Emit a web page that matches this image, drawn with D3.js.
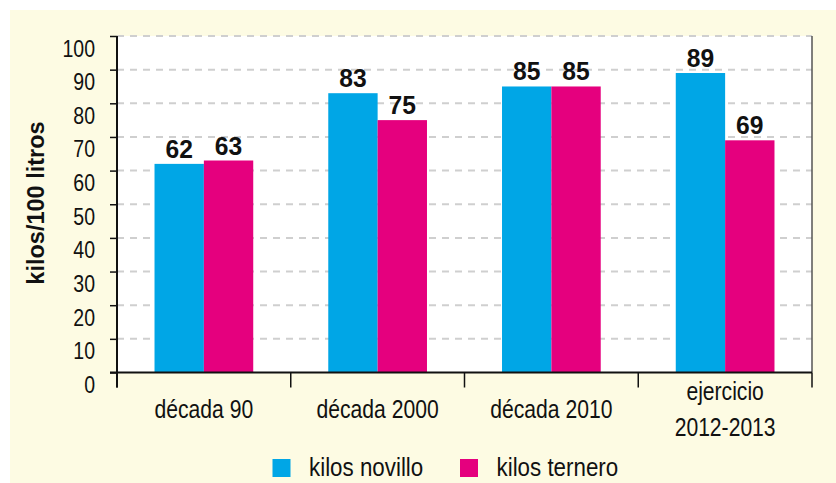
<!DOCTYPE html>
<html><head><meta charset="utf-8">
<script src="https://cdn.jsdelivr.net/npm/d3@7"></script>
<style>
html,body{margin:0;padding:0;background:#fff;}
svg{display:block;}
text{font-family:"Liberation Sans",Arial,Helvetica,sans-serif;}
</style></head>
<body>
<svg id="chart" width="836" height="483"></svg>
<script>
const categories = [["década 90"], ["década 2000"], ["década 2010"], ["ejercicio", "2012-2013"]];
const seriesNames = ["kilos novillo", "kilos ternero"];
const novillo = [62, 83, 85, 89];
const ternero = [63, 75, 85, 69];
const yTicks = [0, 10, 20, 30, 40, 50, 60, 70, 80, 90, 100];
const colors = ["#00a6e6", "#e5007e"];

const svg = d3.select("#chart");
const W = 836, H = 483;
const m = {left: 117, right: 812, top: 36, bottom: 372.5};
const K = 0.83; // horizontal condensing factor for the narrow face

function condensed(sel, x, y, k) {
  sel.attr("x", 0).attr("y", 0)
     .attr("transform", function(d, i) {
       const xx = typeof x === "function" ? x.call(this, d, i) : x;
       const yy = typeof y === "function" ? y.call(this, d, i) : y;
       return `translate(${xx},${yy}) scale(${k},1)`;
     });
  return sel;
}

svg.append("rect").attr("x", 10).attr("y", 10).attr("width", W - 10).attr("height", H - 10).attr("fill", "#fdfbe3");
svg.append("rect").attr("x", m.left).attr("y", m.top).attr("width", m.right - m.left).attr("height", m.bottom - m.top).attr("fill", "#ffffff");

const keys = categories.map(c => c.join(" "));
const x0 = d3.scaleBand().domain(keys).range([m.left, m.right]).paddingInner(0).paddingOuter(0);
const x1 = d3.scaleBand().domain(seriesNames).range([0, x0.bandwidth()]).paddingInner(0).paddingOuter(0.76);
const y = d3.scaleLinear().domain([0, 100]).range([m.bottom, m.top]);

// gridlines
svg.append("g").selectAll("line").data(yTicks.filter(t => t > 0)).join("line")
  .attr("x1", m.left).attr("x2", m.right)
  .attr("y1", d => y(d)).attr("y2", d => y(d))
  .attr("stroke", "#cfcfcf").attr("stroke-width", 2).attr("stroke-dasharray", "7,6");

// bars
const data = keys.map((k, i) => ({key: k, vals: [novillo[i], ternero[i]]}));
const groups = svg.append("g").selectAll("g").data(data).join("g")
  .attr("transform", d => `translate(${x0(d.key)},0)`);
groups.selectAll("rect").data(d => d.vals.map((v, j) => ({s: seriesNames[j], v, j}))).join("rect")
  .attr("x", d => x1(d.s)).attr("width", x1.bandwidth())
  .attr("y", d => y(d.v)).attr("height", d => y(0) - y(d.v))
  .attr("fill", d => colors[d.j]);
condensed(
  groups.selectAll("text").data(d => d.vals.map((v, j) => ({s: seriesNames[j], v, j}))).join("text")
    .attr("text-anchor", "middle").attr("font-size", 26.5).attr("font-weight", "bold").attr("fill", "#111")
    .text(d => d.v),
  d => x1(d.s) + x1.bandwidth() / 2, d => y(d.v) - 6, 0.93);

// right border
svg.append("line").attr("x1", m.right).attr("x2", m.right).attr("y1", m.top).attr("y2", m.bottom)
  .attr("stroke", "#555").attr("stroke-width", 1.5);

// y axis
const yAxis = svg.append("g").attr("transform", `translate(${m.left},0)`)
  .call(d3.axisLeft(y).tickValues(yTicks).tickSize(7).tickPadding(22));
yAxis.select(".domain").remove();
yAxis.selectAll(".tick line").attr("stroke", "#111").attr("stroke-width", 1.5);
yAxis.selectAll(".tick text").attr("font-size", 23.5).attr("fill", "#111")
  .attr("font-family", null).attr("dy", null)
  .attr("x", -22 / K).attr("y", 20)
  .attr("transform", `scale(${K},1)`);
svg.append("line").attr("x1", m.left).attr("x2", m.left).attr("y1", m.top).attr("y2", m.bottom + 15)
  .attr("stroke", "#111").attr("stroke-width", 2);

// x axis
svg.append("line").attr("x1", m.left - 7).attr("x2", m.right).attr("y1", m.bottom).attr("y2", m.bottom)
  .attr("stroke", "#111").attr("stroke-width", 2);
const bounds = keys.map(k => x0(k)).concat([m.right]);
svg.append("g").selectAll("line").data(bounds).join("line")
  .attr("x1", d => d).attr("x2", d => d).attr("y1", m.bottom).attr("y2", m.bottom + 15)
  .attr("stroke", "#111").attr("stroke-width", 1.5);
const catLines = [];
categories.forEach((c, i) => c.forEach((t, j) => catLines.push({
  t, cx: x0(keys[i]) + x0.bandwidth() / 2,
  by: c.length > 1 ? 400 + j * 36 : 418
})));
condensed(
  svg.append("g").selectAll("text").data(catLines).join("text")
    .attr("text-anchor", "middle").attr("font-size", 25).attr("fill", "#111")
    .text(d => d.t),
  d => d.cx, d => d.by, 0.845);

// y title
svg.append("text").attr("transform", "translate(44,203) rotate(-90)")
  .attr("text-anchor", "middle").attr("font-size", 23.5).attr("font-weight", "bold").attr("fill", "#111")
  .text("kilos/100 litros");

// legend
const legX = [272.5, 460];
const leg = svg.append("g").selectAll("g").data(seriesNames).join("g")
  .attr("transform", (d, i) => `translate(${legX[i]},459)`);
leg.append("rect").attr("width", 18).attr("height", 18).attr("fill", (d, i) => colors[i]);
condensed(leg.append("text").attr("font-size", 26).attr("fill", "#111").text(d => d), 36.5, 17, 0.86);
</script>
</body></html>
